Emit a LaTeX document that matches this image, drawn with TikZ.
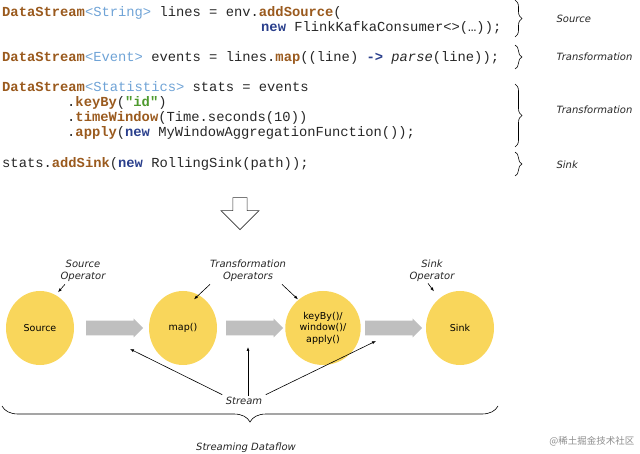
\documentclass[tikz,border=0pt]{standalone}
\usepackage{fontspec}
\setmainfont{DejaVu Sans}
\setmonofont{Liberation Mono}
\newfontfamily\cjk{Noto Sans CJK SC}
\usetikzlibrary{decorations.pathreplacing,arrows.meta,shapes.arrows,shapes.geometric}
\definecolor{kw}{HTML}{9A5A1E}
\definecolor{ty}{HTML}{6FA3D6}
\definecolor{nw}{HTML}{2A3F8C}
\definecolor{st}{HTML}{4E9A2E}
\definecolor{circ}{HTML}{F9D65B}
\newcommand{\K}[1]{\textcolor{kw}{\textbf{#1}}}
\newcommand{\T}[1]{\textcolor{ty}{#1}}
\newcommand{\N}[1]{\textcolor{nw}{\textbf{#1}}}
\begin{document}
\begin{tikzpicture}[x=1pt,y=-1pt,
  code/.style={anchor=base west,inner sep=0,font=\fontsize{13.8}{15}\ttfamily,text=black!85},
  lab/.style={font=\fontsize{10}{12}\itshape,text=black!85,align=center},
  br/.style={decorate,decoration={brace,amplitude=7pt},line width=0.6pt},
  op/.style={ellipse,fill=circ,minimum width=68pt,minimum height=74pt,font=\fontsize{9.5}{11.5}\selectfont,align=center},
  garr/.style={single arrow,fill=black!25,minimum height=57pt,minimum width=19pt,single arrow head extend=1pt,inner sep=3.5pt},
  sa/.style={-{Latex[length=4pt,width=3pt]},line width=0.6pt}]
\useasboundingbox (0,0) rectangle (640,454);
\node[code] (c1) at (2,17) {\K{DataStream}\T{<String>} lines = env.\K{addSource}(};
\node[code] (c2) at (261,32) {\N{new} FlinkKafkaConsumer<>(…));};
\node[code] (c3) at (2,62) {\K{DataStream}\T{<Event>} events = lines.\K{map}((line) \N{->} \textit{parse}(line));};
\node[code] (c4) at (2,92) {\K{DataStream}\T{<Statistics>} stats = events};
\node[code] (c5) at (67,107) {.\K{keyBy}(\textcolor{st}{\textbf{"id"}})};
\node[code] (c6) at (67,122) {.\K{timeWindow}(Time.seconds(10))};
\node[code] (c7) at (67,137) {.\K{apply}(\N{new} MyWindowAggregationFunction());};
\node[code] (c8) at (2,168) {stats.\K{addSink}(\N{new} RollingSink(path));};
\coordinate (b1a) at (515,0); \coordinate (b1b) at (515,37);
\coordinate (b2a) at (515,45); \coordinate (b2b) at (515,69);
\coordinate (b3a) at (515,84); \coordinate (b3b) at (515,147);
\coordinate (b4a) at (515,152); \coordinate (b4b) at (515,176);
\draw[br] (b1a) -- (b1b); \draw[br] (b2a) -- (b2b); \draw[br] (b3a) -- (b3b); \draw[br] (b4a) -- (b4b);
\node[lab,anchor=west] (l1) at (553,19) {Source};
\node[lab,anchor=west] (l2) at (553,57) {Transformation};
\node[lab,anchor=west] (l3) at (553,110) {Transformation};
\node[lab,anchor=west] (l4) at (553,165) {Sink};
\node[single arrow,draw=black!80,fill=white,line width=0.6pt,shape border rotate=270,minimum height=32pt,minimum width=38pt,single arrow head extend=6pt] (down) at (240,210) {};
\node[op] (src) at (40,328) {Source};
\node[op] (map) at (183,328) {map()};
\node[op] (kb) at (323,328) {keyBy()/\\window()/\\apply()};
\node[op] (snk) at (460,328) {Sink};
\node[garr] (g1) at (111,328) {};
\node[garr] (g2) at (251,328) {};
\node[garr] (g3) at (390,328) {};
\node[lab] (so) at (83,271) {Source\\Operator};
\node[lab] (to) at (248,271) {Transformation\\Operators};
\node[lab] (sko) at (432,271) {Sink\\Operator};
\draw[sa] ([xshift=-18pt,yshift=1pt]so.south) -- ++(-7,8);
\draw[sa] ([xshift=-38pt,yshift=1pt]to.south) -- ++(-16,15);
\draw[sa] ([xshift=34pt,yshift=1pt]to.south) -- ++(16,15);
\draw[sa] ([xshift=-4pt,yshift=2pt]sko.south) -- ++(6,8);
\node[lab] (stream) at (244,401) {Stream};
\draw[sa] ([yshift=-1pt]stream.north west) -- (130,349);
\draw[sa] ([xshift=4pt,yshift=-2pt]stream.north) -- (248,347);
\draw[sa] ([yshift=-1pt]stream.north east) -- (376,341);
\coordinate (ba) at (498,406); \coordinate (bb) at (2,406);
\draw[decorate,decoration={brace,amplitude=16pt,aspect=0.5},line width=0.6pt] (ba) -- (bb);
\node[lab] (sd) at (246,448) {Streaming Dataflow};
\node[font=\cjk\fontsize{9.5}{10}\selectfont,text=black!45,anchor=east] (wm) at (638,441) {@稀土掘金技术社区};
\end{tikzpicture}
\end{document}
